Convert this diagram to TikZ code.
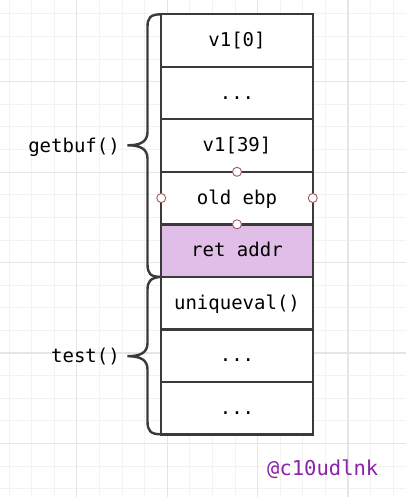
\documentclass[tikz,border=0pt]{standalone}
\usepackage{fontspec}
\setmonofont{DejaVu Sans Mono}
\usepackage{tikz}
\usetikzlibrary{positioning}
\definecolor{minorgrey}{gray}{0.95}
\definecolor{majorgrey}{gray}{0.90}
\definecolor{framegrey}{HTML}{3A3A3A}
\definecolor{retpurple}{HTML}{E1BEE7}
\definecolor{handlered}{HTML}{A35A5C}
\definecolor{signpurple}{HTML}{8A24A8}

\begin{document}
\begin{tikzpicture}[x=1pt,y=-1pt]
\tikzstyle{cell}=[draw=framegrey,line width=2.4pt,fill=white,minimum width=151.5pt,minimum height=52.5pt,inner sep=0pt,outer sep=0pt,text height=14pt,text depth=2pt,font=\ttfamily\fontsize{19}{22}\selectfont]
\tikzstyle{label}=[inner sep=0pt,font=\ttfamily\fontsize{19}{22}\selectfont]
\tikzstyle{handle}=[draw=handlered,circle,fill=white,line width=0.9pt,inner sep=0pt,minimum size=9pt]
\tikzstyle{brace}=[draw=framegrey,line width=2.4pt]
\useasboundingbox (0,0) rectangle (406,497);
\fill [white] (0,0) rectangle (406,497);
\foreach \i in {0,...,17} {
  \draw [minorgrey,line width=1pt] ({9+22.6*\i},0) -- ({9+22.6*\i},497);
}
\foreach \j in {0,...,21} {
  \draw [minorgrey,line width=1pt] (0,{14+22.6*\j}) -- (406,{14+22.6*\j});
}
\foreach \i in {3,7,11,15} {
  \draw [majorgrey,line width=1.2pt] ({9+22.6*\i},0) -- ({9+22.6*\i},497);
}
\foreach \j in {3,7,11,15,19} {
  \draw [majorgrey,line width=1.2pt] (0,{14+22.6*\j}) -- (406,{14+22.6*\j});
}

\node [cell] at (237,40.55) (r1) {v1[0]};
\node [cell,below=0pt of r1] (r2) {...};
\node [cell,below=0pt of r2] (r3) {v1[39]};
\node [cell,below=0pt of r3] (r4) {old ebp};
\node [cell,fill=retpurple,below=0pt of r4] (r5) {ret addr};
\node [cell,below=0pt of r5] (r6) {uniqueval()};
\node [cell,below=0pt of r6] (r7) {...};
\node [cell,below=0pt of r7] (r8) {...};

\node [handle] at (r4.north) (h1) {};
\node [handle] at (r4.south) (h2) {};
\node [handle] at (r4.west) (h3) {};
\node [handle] at (r4.east) (h4) {};

\draw [brace] (r1.north west) .. controls (150,14.3) and (147.5,18) .. (147.5,27)
  -- (147.5,132) .. controls (147.5,142) and (140,145.3) .. (127.5,145.3)
  .. controls (140,145.3) and (147.5,148.6) .. (147.5,158.6)
  -- (147.5,264) .. controls (147.5,273.5) and (150,277) .. (r5.south west);
\draw [brace] (r6.north west) .. controls (150,277.8) and (147.5,281.5) .. (147.5,290)
  -- (147.5,343) .. controls (147.5,353) and (140,356.2) .. (127.5,356.2)
  .. controls (140,356.2) and (147.5,359.5) .. (147.5,369.5)
  -- (147.5,421) .. controls (147.5,430.5) and (150,434.3) .. (r8.south west);

\node [label,anchor=base east] at (120,152.7) (getbuf) {getbuf()};
\node [label,anchor=base east] at (120,362.7) (test) {test()};
\node [label,anchor=base west,text=signpurple,font=\ttfamily\fontsize{20.5}{24}\selectfont] at (267,475) (sign) {@c10udlnk};
\end{tikzpicture}
\end{document}
